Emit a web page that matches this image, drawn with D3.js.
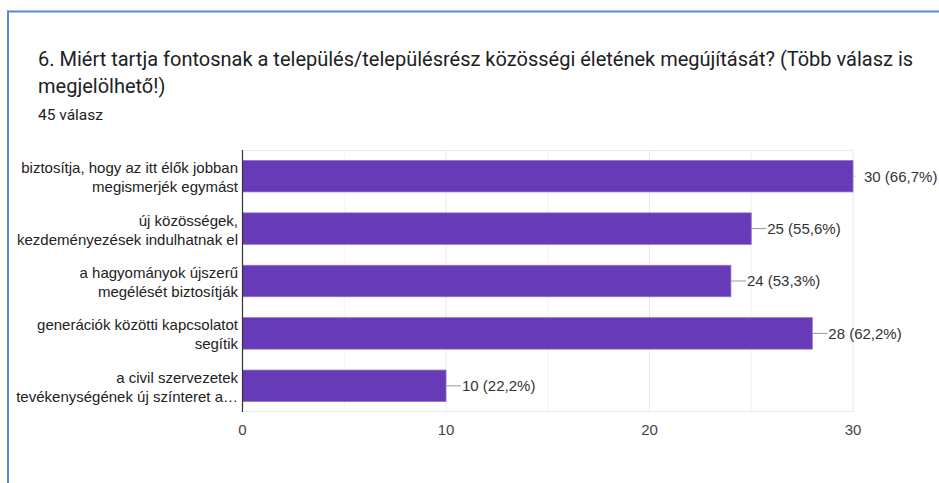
<!DOCTYPE html>
<html>
<head>
<meta charset="utf-8">
<script src="https://cdn.jsdelivr.net/npm/d3@7"></script>
<style>
html,body{margin:0;padding:0;background:#fff;overflow:hidden;}
svg{display:block;font-family:Roboto, Arial, sans-serif;}
.lab{font-family:"Liberation Sans", Arial, sans-serif;}
</style>
</head>
<body>
<svg id="chart" width="939" height="483"></svg>
<script>
const title = ["6. Miért tartja fontosnak a település/településrész közösségi életének megújítását? (Több válasz is", "megjelölhető!)"];
const subtitle = "45 válasz";
const categories = [
  ["biztosítja, hogy az itt élők jobban", "megismerjék egymást"],
  ["új közösségek,", "kezdeményezések indulhatnak el"],
  ["a hagyományok újszerű", "megélését biztosítják"],
  ["generációk közötti kapcsolatot", "segítik"],
  ["a civil szervezetek", "tevékenységének új színteret a…"]
];
const values = [30, 25, 24, 28, 10];
const valueLabels = ["30 (66,7%)", "25 (55,6%)", "24 (53,3%)", "28 (62,2%)", "10 (22,2%)"];
const majorTicks = [0, 10, 20, 30];
const minorTicks = [5, 15, 25];

const svg = d3.select("#chart");

// card border (left and top)
svg.append("line").attr("x1", 7).attr("x2", 939).attr("y1", 11.5).attr("y2", 11.5)
  .attr("stroke", "#5a8ad0").attr("stroke-width", 2);
svg.append("line").attr("x1", 8).attr("x2", 8).attr("y1", 10.5).attr("y2", 483)
  .attr("stroke", "#5a8ad0").attr("stroke-width", 2);

// title
svg.selectAll("text.title").data(title).join("text")
  .attr("class", "title")
  .attr("x", 38).attr("y", (d, i) => 66 + i * 27)
  .attr("font-size", 20).attr("fill", "#202124")
  .text(d => d);
svg.append("text").attr("x", 38).attr("y", 120)
  .attr("font-size", 15.5).attr("fill", "#202124").text(subtitle);

const x = d3.scaleLinear().domain([0, 30]).range([242.5, 853]);
const y = d3.scaleBand().domain(d3.range(categories.length)).range([150, 412]).paddingInner(0.4).paddingOuter(0.2);
const maxV = d3.max(values);

const g = svg.append("g");

// gridlines
g.selectAll("line.minor").data(minorTicks).join("line")
  .attr("x1", d => x(d)).attr("x2", d => x(d)).attr("y1", 150).attr("y2", 412)
  .attr("stroke", "#f3f3f3").attr("stroke-width", 1);
g.selectAll("line.major").data(majorTicks.slice(1)).join("line")
  .attr("x1", d => x(d)).attr("x2", d => x(d)).attr("y1", 150).attr("y2", 412)
  .attr("stroke", "#e8e8e8").attr("stroke-width", 1);
g.append("line").attr("x1", x(0)).attr("x2", x(30)).attr("y1", 150.5).attr("y2", 150.5)
  .attr("stroke", "#ebebeb");
g.append("line").attr("x1", x(0)).attr("x2", x(30)).attr("y1", 411.5).attr("y2", 411.5)
  .attr("stroke", "#ebebeb");

// bars
g.selectAll("rect.bar").data(values).join("rect")
  .attr("class", "bar")
  .attr("x", x(0)).attr("y", (d, i) => y(i))
  .attr("width", d => x(d) - x(0)).attr("height", y.bandwidth())
  .attr("fill", "#673ab7").attr("stroke", "#8e6fcf").attr("stroke-width", 0.8);

// axis line
g.append("line").attr("x1", x(0)).attr("x2", x(0)).attr("y1", 150).attr("y2", 412)
  .attr("stroke", "#333").attr("stroke-width", 1.2);

// connectors and value labels
g.selectAll("line.conn").data(values).join("line")
  .attr("x1", d => x(d)).attr("x2", d => x(d) + (d === maxV ? 3 : 15))
  .attr("y1", (d, i) => y(i) + y.bandwidth() / 2).attr("y2", (d, i) => y(i) + y.bandwidth() / 2)
  .attr("stroke", d => d === maxV ? "#ccc" : "#999").attr("stroke-width", 1);
g.selectAll("text.val").data(values).join("text")
  .attr("class", "lab")
  .attr("x", d => x(d) + (d === maxV ? 11 : 16))
  .attr("y", (d, i) => y(i) + y.bandwidth() / 2)
  .attr("dy", "0.36em")
  .attr("font-size", 15).attr("fill", "#333")
  .text((d, i) => valueLabels[i]);

// category labels
const cat = g.selectAll("text.cat").data(categories).join("text")
  .attr("class", "lab")
  .attr("text-anchor", "end").attr("font-size", 15).attr("fill", "#222");
cat.selectAll("tspan").data((d, i) => d.map(t => ({t, i}))).join("tspan")
  .attr("x", 238)
  .attr("y", (d, j) => y(d.i) + y.bandwidth() / 2 - 3 + j * 19)
  .text(d => d.t);

// x axis tick labels
g.selectAll("text.tick").data(majorTicks).join("text")
  .attr("class", "lab")
  .attr("x", d => x(d)).attr("y", 435)
  .attr("text-anchor", "middle").attr("font-size", 15).attr("fill", "#444")
  .text(d => d);
</script>
</body>
</html>
